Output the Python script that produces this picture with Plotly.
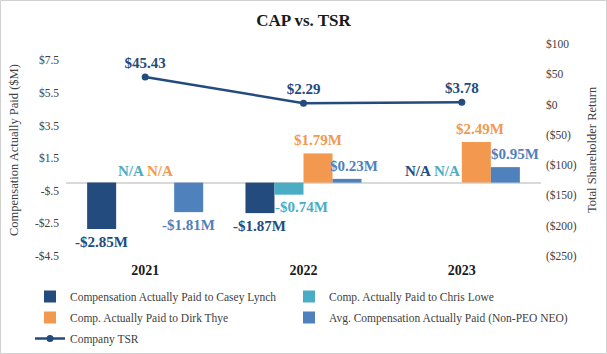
import plotly.graph_objects as go

# ---------------- data ----------------
years = ["2021", "2022", "2023"]
casey_lynch = [-2.85, -1.87, None]
chris_lowe = [None, -0.74, None]
dirk_thye = [None, 1.79, 2.49]
avg_non_peo = [-1.81, 0.23, 0.95]
company_tsr = [45.43, 2.29, 3.78]

series_names = [
    "Compensation Actually Paid to Casey Lynch",
    "Comp. Actually Paid to Chris Lowe",
    "Comp. Actually Paid to Dirk Thye",
    "Avg. Compensation Actually Paid (Non-PEO NEO)",
]
tsr_name = "Company TSR"

left_tickvals = [-4.5, -2.5, -0.5, 1.5, 3.5, 5.5, 7.5]
left_ticktext = ["-$4.5", "-$2.5", "-$.5", "$1.5", "$3.5", "$5.5", "$7.5"]
right_tickvals = [-250, -200, -150, -100, -50, 0, 50, 100]
right_ticktext = ["($250)", "($200)", "($150)", "($100)", "($50)", "$0", "$50", "$100"]

# ---------------- styles / layout ----------------
W, H = 607, 354
ML, MR, MT, MB = 66, 66, 44, 98
PW = W - ML - MR
PH = H - MT - MB
FONT = "Liberation Serif, Times New Roman, serif"
colors = ["#234B7D", "#4BACC6", "#F2994F", "#4F81BD"]
label_colors = ["#234B7D", "#4BACC6", "#F2994F", "#4F81BD"]
tsr_color = "#234B7D"
BARGAP = 0.267
cat_w = PW / len(years)
bar_w = cat_w * (1 - BARGAP) / 4
# manual horizontal nudges for a few labels (series index, year index) -> px
nudge = {(1, 1): 13, (3, 1): 7, (3, 2): 10, (2, 2): 4}
legend_of = ["legend", "legend2", "legend", "legend2"]

fig = go.Figure()
all_series = [casey_lynch, chris_lowe, dirk_thye, avg_non_peo]
for i, (name, vals) in enumerate(zip(series_names, all_series)):
    fig.add_trace(go.Bar(
        x=years, y=vals, name=name, marker_color=colors[i],
        marker_line_width=0, yaxis="y", legend=legend_of[i],
        legendgroup=f"g{i}",
    ))

fig.add_trace(go.Scatter(
    x=years, y=company_tsr, name=tsr_name, yaxis="y2", legend="legend",
    legendgroup="tsr",
    mode="lines+markers+text",
    line=dict(color=tsr_color, width=2.5),
    marker=dict(color=tsr_color, size=7),
    text=[f"<b>${v:.2f}</b>" for v in company_tsr],
    textposition="top center",
    textfont=dict(family=FONT, size=15, color=tsr_color),
    cliponaxis=False,
))

annotations = []
for i, vals in enumerate(all_series):
    for j, v in enumerate(vals):
        xs = (i - 1.5) * bar_w + nudge.get((i, j), 0)
        if v is None:
            txt, yv, ys = "N/A", 0, 12
        else:
            txt = ("-$" if v < 0 else "$") + f"{abs(v):.2f}M"
            yv = v
            ys = -12.5 if v < 0 else 13
        annotations.append(dict(
            x=j, y=yv, xref="x", yref="y", text=f"<b>{txt}</b>",
            showarrow=False, xshift=xs, yshift=ys, yanchor="middle",
            font=dict(family=FONT, size=15, color=label_colors[i]),
        ))

annotations.append(dict(
    x=-52 / PW, y=0.5, xref="paper", yref="paper", textangle=-90,
    text="Compensation Actually Paid ($M)", showarrow=False,
    xanchor="center", yanchor="middle",
    font=dict(family=FONT, size=12.5, color="#404040"),
))
annotations.append(dict(
    x=1 + 51 / PW, y=0.5, xref="paper", yref="paper", textangle=-90,
    text="Total Shareholder Return", showarrow=False,
    xanchor="center", yanchor="middle",
    font=dict(family=FONT, size=12.5, color="#404040"),
))

legend_style = dict(orientation="v", xanchor="left", yanchor="top",
                    xref="container", yref="container",
                    font=dict(family=FONT, size=11.5, color="#404040"),
                    bgcolor="rgba(0,0,0,0)", traceorder="grouped",
                    tracegroupgap=2, itemwidth=30)
ly = 1 - 282 / H

fig.update_layout(
    width=W, height=H,
    margin=dict(l=ML, r=MR, t=MT, b=MB, autoexpand=False),
    paper_bgcolor="white", plot_bgcolor="white",
    font=dict(family=FONT, color="#404040"),
    title=dict(text="<b>CAP vs. TSR</b>", x=0.5, xanchor="center",
               y=1 - 20 / H, yanchor="middle", yref="container",
               font=dict(family=FONT, size=17, color="#1a1a1a")),
    barmode="group", bargap=BARGAP, bargroupgap=0,
    showlegend=True,
    legend=dict(x=30 / W, y=ly, **legend_style),
    legend2=dict(x=289 / W, y=ly, **legend_style),
    xaxis=dict(type="category", range=[-0.5, 2.5], showgrid=False,
               showline=False, ticks="", ticklabelstandoff=4,
               tickfont=dict(family=FONT, size=14, color="#1a1a1a"),
               tickvals=years, ticktext=[f"<b>{y}</b>" for y in years]),
    yaxis=dict(range=[-4.5, 8.5], tickvals=left_tickvals, ticktext=left_ticktext,
               showgrid=False, zeroline=True, zerolinecolor="#D9D9D9",
               zerolinewidth=1.5, ticks="", ticklabelstandoff=6,
               tickfont=dict(family=FONT, size=11.5, color="#404040")),
    yaxis2=dict(range=[-250, 100], tickvals=right_tickvals, ticktext=right_ticktext,
                overlaying="y", side="right", showgrid=False, zeroline=False,
                ticks="", ticklabelstandoff=4,
                tickfont=dict(family=FONT, size=11.5, color="#404040")),
    annotations=annotations,
    shapes=[dict(type="rect", xref="paper", yref="paper",
                 x0=(0.5 - ML) / PW, x1=(W - 0.5 - ML) / PW,
                 y0=-(MB - 0.5) / PH, y1=(PH + MT - 0.5) / PH,
                 line=dict(color="#D0D0D0", width=1), layer="below")],
)

fig.write_html("out.html")
